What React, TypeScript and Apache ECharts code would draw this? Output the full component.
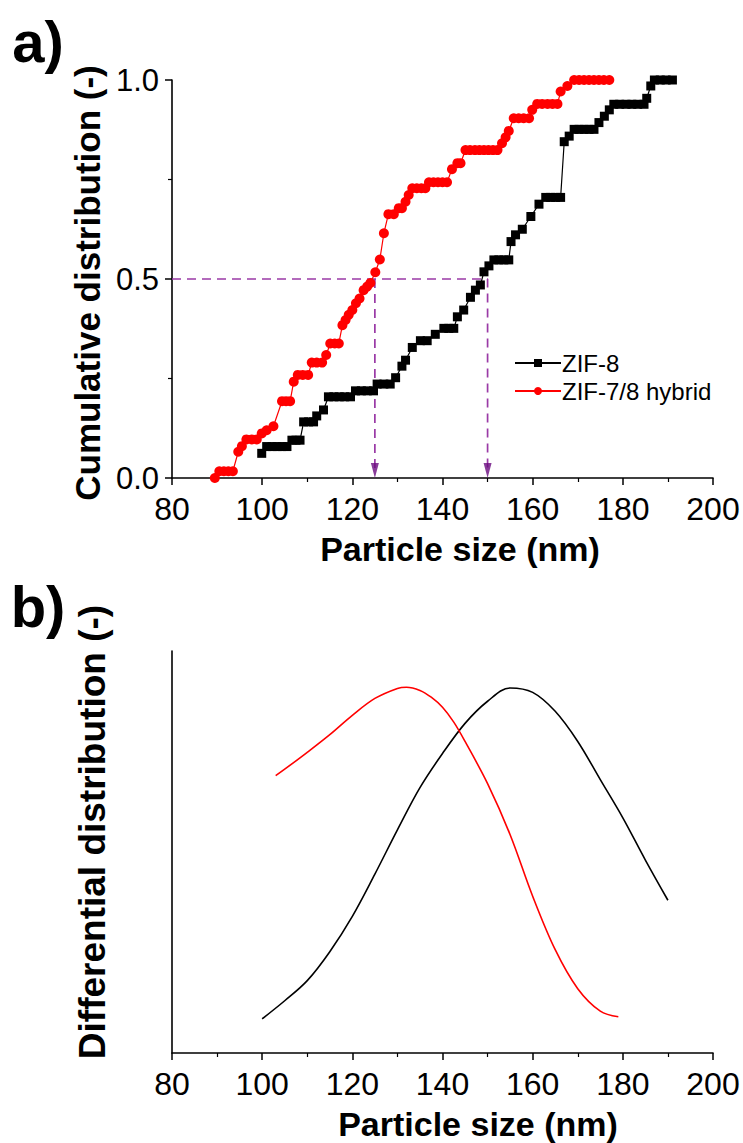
import React, { useEffect, useRef } from "react";
import * as echarts from "echarts";

// ---- Panel a: cumulative distribution ----
const zif8Size = [99.9, 101, 102.2, 103.3, 104.4, 105.5, 106.6, 107.5, 108.4, 109.2, 110.3, 111.4, 112.1, 113.6, 114.7, 115.9, 117.1, 118.3, 119.6, 120.7, 122, 123.3, 124.7, 125.5, 127, 128.4, 129.6, 131, 131.8, 133.3, 135.1, 136.6, 138.4, 140.3, 141.4, 142.5, 143.3, 144.7, 146.2, 147.3, 148.4, 149.2, 150.3, 151.4, 152.5, 153.6, 154.7, 155.2, 156.2, 157.7, 159.6, 161.4, 162.9, 164, 165.1, 166.2, 167, 168.1, 169.2, 170.3, 171.4, 172.5, 173.6, 174.7, 175.9, 177, 178, 179.3, 180.7, 182, 183.3, 184.7, 185.3, 186.2, 187, 188.3, 189.6, 191];
const zif8Cum = [0.062, 0.079, 0.079, 0.079, 0.079, 0.079, 0.095, 0.095, 0.095, 0.141, 0.141, 0.141, 0.156, 0.171, 0.204, 0.204, 0.204, 0.204, 0.204, 0.219, 0.219, 0.219, 0.219, 0.236, 0.236, 0.236, 0.252, 0.281, 0.296, 0.328, 0.345, 0.345, 0.361, 0.376, 0.376, 0.376, 0.405, 0.422, 0.454, 0.472, 0.485, 0.518, 0.533, 0.548, 0.548, 0.548, 0.548, 0.594, 0.611, 0.625, 0.657, 0.688, 0.705, 0.705, 0.705, 0.705, 0.845, 0.859, 0.876, 0.876, 0.876, 0.876, 0.876, 0.893, 0.909, 0.925, 0.939, 0.939, 0.939, 0.939, 0.939, 0.939, 0.954, 0.985, 1.0, 1.0, 1.0, 1.0];

const hybridSize = [89.5, 90.5, 91.5, 92.5, 93.5, 94.7, 95.5, 96.5, 97.7, 98.8, 99.9, 101, 102.5, 104.4, 105.3, 106.2, 107, 107.9, 109, 110.2, 111, 112.1, 113.3, 114.2, 115.1, 116.1, 117, 117.8, 118.5, 119.2, 120, 120.8, 121.6, 122.5, 123.3, 124, 125.1, 126.1, 127, 128, 129.2, 130.3, 131, 131.8, 132.5, 133.3, 134.3, 135.3, 136.2, 137, 138, 139, 140, 141, 142.1, 143.3, 144, 145.1, 146.1, 147.2, 148.2, 149.2, 150.2, 151.2, 152.2, 153.2, 154, 154.7, 155.8, 156.9, 158, 159.2, 159.9, 161, 162.1, 163.3, 164.4, 165.5, 166.2, 167.7, 169.2, 170.3, 171.4, 172.5, 173.6, 174.7, 175.8, 177];
const hybridCum = [0, 0.017, 0.017, 0.017, 0.017, 0.066, 0.08, 0.097, 0.097, 0.097, 0.112, 0.12, 0.13, 0.193, 0.193, 0.193, 0.242, 0.259, 0.259, 0.259, 0.29, 0.29, 0.29, 0.309, 0.338, 0.338, 0.338, 0.384, 0.397, 0.41, 0.422, 0.439, 0.451, 0.472, 0.481, 0.49, 0.517, 0.549, 0.615, 0.663, 0.663, 0.678, 0.678, 0.694, 0.711, 0.728, 0.728, 0.728, 0.728, 0.743, 0.743, 0.743, 0.743, 0.743, 0.776, 0.791, 0.791, 0.824, 0.824, 0.824, 0.824, 0.824, 0.824, 0.824, 0.824, 0.841, 0.856, 0.872, 0.904, 0.904, 0.904, 0.904, 0.925, 0.94, 0.94, 0.94, 0.94, 0.94, 0.971, 0.985, 1.0, 1.0, 1.0, 1.0, 1.0, 1.0, 1.0, 1.0];

const halfLevel = 0.5;
const d50Sizes = [125, 150];
const arrowTipLevel = 0.019;

// ---- Panel b: differential distribution ----
const diffSizeZif8 = [100, 105, 110, 115, 120, 125, 130, 135, 140, 145, 150, 155, 160, 165, 170, 175, 180, 185, 190];
const diffZif8 = [0.085, 0.13, 0.18, 0.252, 0.34, 0.445, 0.555, 0.66, 0.745, 0.82, 0.875, 0.908, 0.897, 0.85, 0.775, 0.68, 0.585, 0.48, 0.38];
const diffSizeHybrid = [103, 105, 110, 115, 120, 125, 130, 132, 135, 137.5, 140, 142.5, 145, 150, 155, 160, 165, 170, 175, 179];
const diffHybrid = [0.69, 0.706, 0.748, 0.792, 0.84, 0.882, 0.907, 0.91, 0.902, 0.885, 0.86, 0.823, 0.775, 0.67, 0.543, 0.39, 0.257, 0.16, 0.104, 0.09];

const xMin = 80;
const xMax = 200;
const xStep = 20;

const FONT = "'Liberation Sans', Arial, sans-serif";

const zip = (xs: number[], ys: number[]) => xs.map((x, i) => [x, ys[i]]);

export default function App() {
  const ref = useRef<HTMLDivElement>(null);
  useEffect(() => {
    const chart = echarts.init(ref.current!, null, { renderer: "svg" });
    const axisLine = { show: true, onZero: false, lineStyle: { color: "#000", width: 1.6 } };
    const xAxisBase = {
      type: "value",
      min: xMin,
      max: xMax,
      interval: xStep,
      axisLine,
      axisTick: { show: true, inside: false, length: 7, lineStyle: { color: "#000", width: 1.5 } },
      minorTick: { show: true, splitNumber: 2, length: 4, lineStyle: { color: "#000", width: 1.2 } },
      splitLine: { show: false },
      axisLabel: { fontSize: 32, color: "#000", fontFamily: FONT, margin: 15 },
    };
    const purple = "#9a3aa6";
    const option: any = {
      animation: false,
      backgroundColor: "#fff",
      grid: [
        { left: 172, top: 80, width: 541, height: 398 },
        { left: 172, top: 651, width: 541, height: 402 },
      ],
      xAxis: [
        { ...xAxisBase, gridIndex: 0 },
        { ...xAxisBase, gridIndex: 1 },
      ],
      yAxis: [
        {
          type: "value",
          gridIndex: 0,
          min: 0,
          max: 1,
          interval: 0.5,
          axisLine,
          axisTick: { show: true, inside: false, length: 7, lineStyle: { color: "#000", width: 1.5 } },
          minorTick: { show: true, splitNumber: 2, length: 4, lineStyle: { color: "#000", width: 1.2 } },
          splitLine: { show: false },
          axisLabel: {
            fontSize: 31,
            color: "#000",
            fontFamily: FONT,
            margin: 13,
            formatter: (v: number) => v.toFixed(1),
          },
        },
        {
          type: "value",
          gridIndex: 1,
          min: 0,
          max: 1,
          axisLine,
          axisTick: { show: false },
          splitLine: { show: false },
          axisLabel: { show: false },
        },
      ],
      legend: {
        orient: "vertical",
        left: 509,
        top: 346,
        itemWidth: 46,
        itemHeight: 10,
        itemGap: 4,
        textStyle: { fontSize: 24, fontFamily: FONT, color: "#000", padding: [0, 0, 0, -4] },
        data: ["ZIF-8", "ZIF-7/8 hybrid"],
      },
      series: [
        {
          name: "guide",
          type: "line",
          xAxisIndex: 0,
          yAxisIndex: 0,
          data: [[xMin, halfLevel], [d50Sizes[1], halfLevel], [d50Sizes[1], arrowTipLevel]],
          showSymbol: false,
          symbol: "none",
          lineStyle: { color: purple, width: 1.7, type: [9, 6] },
          silent: true,
          z: 1,
        },
        {
          name: "guide2",
          type: "line",
          xAxisIndex: 0,
          yAxisIndex: 0,
          data: [[d50Sizes[0], halfLevel], [d50Sizes[0], arrowTipLevel]],
          showSymbol: false,
          symbol: "none",
          lineStyle: { color: purple, width: 1.7, type: [9, 6] },
          silent: true,
          z: 1,
        },
        {
          name: "ZIF-8",
          type: "line",
          xAxisIndex: 0,
          yAxisIndex: 0,
          data: zip(zif8Size, zif8Cum),
          symbol: "rect",
          symbolSize: 9,
          itemStyle: { color: "#000" },
          lineStyle: { color: "#000", width: 1.2 },
          z: 3,
        },
        {
          name: "ZIF-7/8 hybrid",
          type: "line",
          xAxisIndex: 0,
          yAxisIndex: 0,
          data: zip(hybridSize, hybridCum),
          symbol: "circle",
          symbolSize: 10,
          itemStyle: { color: "#ff0000" },
          lineStyle: { color: "#ff0000", width: 1.2 },
          z: 4,
        },
        {
          name: "arrows",
          type: "scatter",
          xAxisIndex: 0,
          yAxisIndex: 0,
          data: d50Sizes.map((s) => [s, arrowTipLevel]),
          symbol: "triangle",
          symbolRotate: 180,
          symbolSize: [8, 15],
          itemStyle: { color: "#6a0a80" },
          silent: true,
          z: 5,
        },
        {
          name: "diff ZIF-8",
          type: "line",
          xAxisIndex: 1,
          yAxisIndex: 1,
          data: zip(diffSizeZif8, diffZif8),
          smooth: 0.35,
          showSymbol: false,
          symbol: "none",
          lineStyle: { color: "#000", width: 1.6 },
        },
        {
          name: "diff hybrid",
          type: "line",
          xAxisIndex: 1,
          yAxisIndex: 1,
          data: zip(diffSizeHybrid, diffHybrid),
          smooth: 0.35,
          showSymbol: false,
          symbol: "none",
          lineStyle: { color: "#ff0000", width: 1.6 },
        },
      ],
      graphic: [
        { type: "text", x: 38, y: 41, style: { text: "a)", font: `bold 58px ${FONT}`, fill: "#000", textAlign: "center", textVerticalAlign: "middle" } },
        { type: "text", x: 38, y: 606, style: { text: "b)", font: `bold 58px ${FONT}`, fill: "#000", textAlign: "center", textVerticalAlign: "middle" } },
        { type: "text", x: 460, y: 549, style: { text: "Particle size (nm)", font: `bold 34px ${FONT}`, fill: "#000", textAlign: "center", textVerticalAlign: "middle" } },
        { type: "text", x: 478, y: 1124, style: { text: "Particle size (nm)", font: `bold 34px ${FONT}`, fill: "#000", textAlign: "center", textVerticalAlign: "middle" } },
        { type: "text", x: 87, y: 283, rotation: Math.PI / 2, style: { text: "Cumulative distribution (-)", font: `bold 35px ${FONT}`, fill: "#000", textAlign: "center", textVerticalAlign: "middle" } },
        { type: "text", x: 92, y: 832, rotation: Math.PI / 2, style: { text: "Differential distribution (-)", font: `bold 37px ${FONT}`, fill: "#000", textAlign: "center", textVerticalAlign: "middle" } },
      ],
    };
    chart.setOption(option);
    return () => chart.dispose();
  }, []);
  return (
    <div
      ref={ref}
      style={{ position: "fixed", left: 0, top: 0, width: 743, height: 1143, background: "#fff" }}
    />
  );
}
